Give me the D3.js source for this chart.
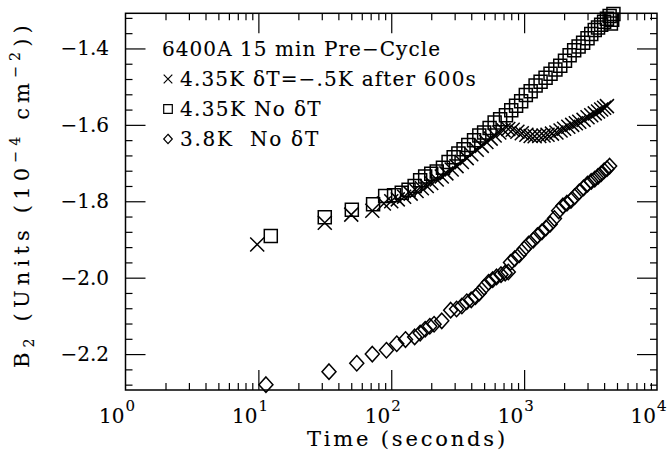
<!DOCTYPE html>
<html><head><meta charset="utf-8">
<script src="https://cdn.jsdelivr.net/npm/d3@7"></script>
<style>body{margin:0;background:#fff} svg{display:block} text{stroke:#000;stroke-width:0.12px}</style>
</head><body><svg id="c" width="669" height="450"></svg>
<script>
// ---- data (time in seconds, B2 in units of 1e-4 cm^-2) ----
const crossT = [9.8, 31.6, 50, 72, 88, 100, 112, 125, 140, 155, 170, 185, 200, 220, 240, 260, 285, 310, 340, 370, 400, 440, 480, 520, 560, 600, 650, 700, 760, 820, 890, 960, 1040, 1120, 1200, 1300, 1400, 1500, 1620, 1750, 1880, 2000, 2150, 2300, 2450, 2600, 2800, 3000, 3200, 3400, 3600, 3800, 4000, 4200];
const crossB = [-1.913, -1.856, -1.835, -1.825, -1.806, -1.800, -1.795, -1.788, -1.780, -1.773, -1.766, -1.760, -1.752, -1.743, -1.735, -1.727, -1.717, -1.708, -1.697, -1.687, -1.677, -1.665, -1.655, -1.645, -1.636, -1.628, -1.620, -1.614, -1.611, -1.613, -1.618, -1.622, -1.626, -1.629, -1.630, -1.629, -1.628, -1.626, -1.623, -1.620, -1.615, -1.610, -1.605, -1.600, -1.596, -1.592, -1.587, -1.580, -1.575, -1.570, -1.565, -1.560, -1.555, -1.551];

const squareT = [12.4, 31.6, 50.5, 73, 90, 105, 120, 135, 150, 165, 180, 200, 220, 245, 270, 295, 320, 350, 380, 420, 460, 500, 550, 600, 660, 730, 800, 870, 950, 1030, 1120, 1220, 1330, 1450, 1580, 1720, 1870, 2030, 2200, 2380, 2570, 2780, 3000, 3200, 3400, 3600, 3800, 4000, 4200, 4400, 4500, 4600, 4700];
const squareB = [-1.891, -1.842, -1.822, -1.808, -1.786, -1.784, -1.778, -1.770, -1.760, -1.745, -1.735, -1.728, -1.722, -1.712, -1.697, -1.685, -1.675, -1.664, -1.653, -1.640, -1.628, -1.620, -1.608, -1.594, -1.585, -1.575, -1.562, -1.550, -1.538, -1.522, -1.512, -1.497, -1.487, -1.477, -1.466, -1.455, -1.445, -1.432, -1.418, -1.405, -1.395, -1.385, -1.373, -1.362, -1.352, -1.345, -1.338, -1.330, -1.322, -1.315, -1.335, -1.325, -1.310];

const diamondT = [11.4, 34, 55, 72, 92, 110, 128, 150, 165, 180, 195, 210, 240, 280, 310, 340, 370, 400, 430, 460, 500, 540, 580, 620, 670, 720, 760, 790, 850, 920, 1000, 1080, 1170, 1260, 1360, 1460, 1570, 1690, 1820, 1960, 2100, 2250, 2400, 2600, 2800, 3000, 3200, 3400, 3600, 3800, 4000, 4200, 4400];
const diamondB = [-2.280, -2.246, -2.224, -2.200, -2.190, -2.173, -2.162, -2.155, -2.145, -2.135, -2.127, -2.122, -2.113, -2.085, -2.082, -2.074, -2.063, -2.058, -2.050, -2.040, -2.025, -2.012, -2.005, -1.998, -1.992, -1.988, -1.985, -1.960, -1.950, -1.940, -1.925, -1.912, -1.902, -1.890, -1.880, -1.870, -1.860, -1.845, -1.825, -1.812, -1.805, -1.798, -1.788, -1.775, -1.765, -1.755, -1.748, -1.742, -1.735, -1.728, -1.720, -1.715, -1.708];

const xTickExponents = [0, 1, 2, 3, 4];
const yTickValues = [-2.2, -2.0, -1.8, -1.6, -1.4];
const yTickLabels = ["\u22122.2", "\u22122.0", "\u22121.8", "\u22121.6", "\u22121.4"];
const legendTitle = "6400A 15 min Pre\u2212Cycle";
const legendLabels = ["4.35K \u03b4T=\u2212.5K after 600s", "4.35K No \u03b4T", "3.8K\u00a0\u00a0No \u03b4T"];
const legendShapes = ["cross", "square", "diamond"];
const xTitle = "Time (seconds)";

// ---- drawing ----
const FONT = "'DejaVu Serif', serif";
const svg = d3.select("#c");
const x = d3.scaleLog().domain([1, 1e4]).range([125.5, 657]);
const y = d3.scaleLinear().domain([-2.294, -1.308]).range([390, 13.3]);
const [X0, X1] = x.range();
const [Y0, Y1] = y.range();

function fit(sel, target) {
  const n = sel.text().length;
  const w = sel.node().getComputedTextLength();
  sel.attr("letter-spacing", ((target - w) / n).toFixed(2));
}

// frame
svg.append("rect").attr("x", X0).attr("y", Y1).attr("width", X1 - X0).attr("height", Y0 - Y1)
  .attr("fill", "none").attr("stroke", "#000").attr("stroke-width", 1.5);

const xMajor = [10, 100, 1000];
const xMinor = d3.range(0, 4).flatMap(e => d3.range(2, 10).map(m => m * Math.pow(10, e)));
const yMajor = yTickValues;
const yMinor = d3.range(-57, -32).filter(i => i % 5 !== 0).map(i => i * 0.04);

function axisG(axis, tx, ty) {
  const g = svg.append("g").attr("transform", `translate(${tx},${ty})`).call(axis);
  g.select(".domain").remove();
  g.selectAll("line").attr("stroke", "#000").attr("stroke-width", 1.2);
  return g;
}
axisG(d3.axisBottom(x).tickValues(xMajor).tickSize(-20).tickFormat(""), 0, Y0);
axisG(d3.axisBottom(x).tickValues(xMinor).tickSize(-7).tickFormat(""), 0, Y0);
axisG(d3.axisTop(x).tickValues(xMajor).tickSize(-20).tickFormat(""), 0, Y1);
axisG(d3.axisTop(x).tickValues(xMinor).tickSize(-7).tickFormat(""), 0, Y1);
axisG(d3.axisLeft(y).tickValues(yMajor).tickSize(-20).tickFormat(""), X0, 0);
axisG(d3.axisLeft(y).tickValues(yMinor).tickSize(-7).tickFormat(""), X0, 0);
axisG(d3.axisRight(y).tickValues(yMajor).tickSize(-20).tickFormat(""), X1, 0);
axisG(d3.axisRight(y).tickValues(yMinor).tickSize(-7).tickFormat(""), X1, 0);

// x tick labels 10^n
const xl = svg.append("g").attr("font-family", FONT).attr("fill", "#000");
xTickExponents.forEach(e => {
  const px = x(Math.pow(10, e));
  xl.append("text").attr("x", px - 1).attr("y", 423).attr("text-anchor", "end")
    .attr("font-size", 20).text("10");
  xl.append("text").attr("x", px).attr("y", 411).attr("text-anchor", "start")
    .attr("font-size", 15).text(String(e));
});

// y tick labels
const yl = svg.append("g").attr("font-family", FONT).attr("font-size", 20).attr("fill", "#000");
yTickValues.forEach((v, i) => {
  yl.append("text").attr("x", 109).attr("y", y(v) + 7).attr("text-anchor", "end").text(yTickLabels[i]);
});

// axis titles
const xt = svg.append("text").attr("font-family", FONT).attr("font-size", 21)
  .attr("x", 307).attr("y", 446).text(xTitle);
fit(xt, 201);

const yt = svg.append("text").attr("font-family", FONT).attr("font-size", 21)
  .attr("transform", "translate(29,368) rotate(-90)").attr("x", 0).attr("y", 0);
yt.append("tspan").text("B");
yt.append("tspan").attr("font-size", 14).attr("dy", 5).text("2");
yt.append("tspan").attr("dy", -5).text(" (Units (10");
yt.append("tspan").attr("font-size", 14).attr("dy", -9).text("\u22124");
yt.append("tspan").attr("dy", 9).text(" cm");
yt.append("tspan").attr("font-size", 14).attr("dy", -9).text("\u22122");
yt.append("tspan").attr("dy", 9).text("))");
fit(yt, 348);

// marker shapes
function shapePath(kind, r) {
  if (kind === "cross") return `M${-r},${-r}L${r},${r}M${-r},${r}L${r},${-r}`;
  if (kind === "square") return `M${-r},${-r}H${r}V${r}H${-r}Z`;
  return `M0,${-r * 1.1}L${r},0L0,${r * 1.1}L${-r},0Z`;
}

function drawSeries(T, B, kind, r) {
  svg.append("g").selectAll("path").data(T.map((t, i) => [t, B[i]])).join("path")
    .attr("transform", d => `translate(${x(d[0])},${y(d[1])})`)
    .attr("d", shapePath(kind, r))
    .attr("fill", "none").attr("stroke", "#000").attr("stroke-width", 1.5);
}
drawSeries(squareT, squareB, "square", 6.5);
drawSeries(diamondT, diamondB, "diamond", 7);
drawSeries(crossT, crossB, "cross", 7);

// legend
const lg = svg.append("g").attr("font-family", FONT).attr("font-size", 20).attr("fill", "#000");
const t0 = lg.append("text").attr("x", 162).attr("y", 56).text(legendTitle);
fit(t0, 279);
const legendW = [297, 142, 140];
legendLabels.forEach((lab, i) => {
  const yy = 86 + i * 30;
  lg.append("path").attr("transform", `translate(168,${yy - 7})`)
    .attr("d", shapePath(legendShapes[i], 4.3))
    .attr("fill", "none").attr("stroke", "#000").attr("stroke-width", 1.2);
  const t = lg.append("text").attr("x", 180).attr("y", yy).text(lab);
  fit(t, legendW[i]);
});
</script>
</body></html>
